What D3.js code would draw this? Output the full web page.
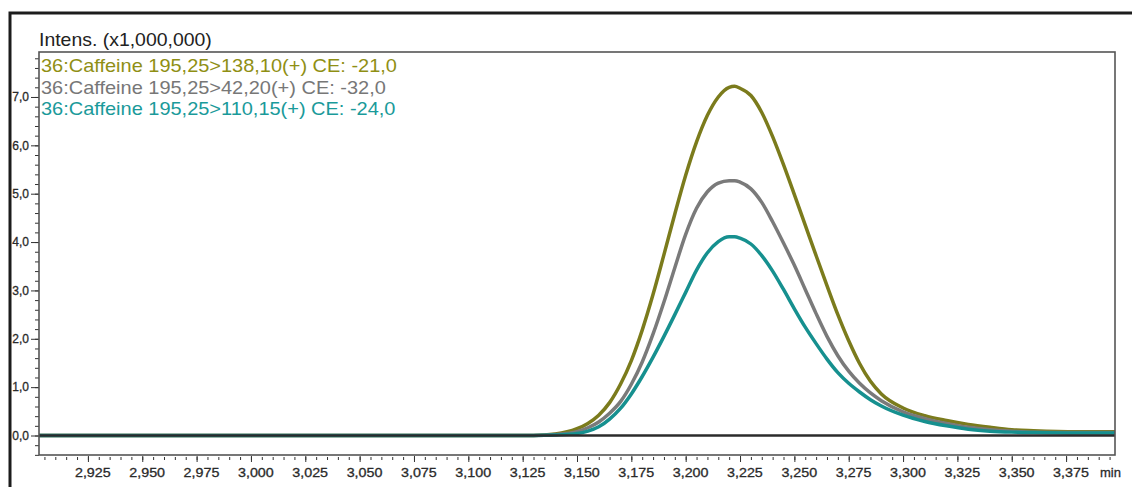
<!DOCTYPE html>
<html>
<head>
<meta charset="utf-8">
<script src="https://d3js.org/d3.v7.min.js"></script>
<style>
  body { margin: 0; background: #fff; }
  text { font-family: "Liberation Sans", Arial, sans-serif; }
</style>
</head>
<body>
<svg id="drawing_region"></svg>
<script>
// retention time (min)
const times = [2.9025, 3.100, 3.130, 3.140, 3.150, 3.155, 3.160, 3.165, 3.170, 3.175,
               3.180, 3.185, 3.190, 3.195, 3.200, 3.205, 3.210, 3.215, 3.220, 3.2225,
               3.225, 3.230, 3.235, 3.240, 3.245, 3.250, 3.255, 3.260, 3.265, 3.270,
               3.275, 3.280, 3.285, 3.290, 3.300, 3.310, 3.320, 3.330, 3.340, 3.350,
               3.360, 3.380, 3.3975];

// intensity (x1,000,000)
const intens138 = [0, 0, 0, 0.03, 0.14, 0.25, 0.42, 0.68, 1.06, 1.55,
                   2.18, 2.92, 3.74, 4.58, 5.38, 6.07, 6.62, 7.00, 7.20, 7.22,
                   7.18, 7.03, 6.68, 6.18, 5.60, 4.98, 4.35, 3.72, 3.10, 2.50,
                   1.96, 1.49, 1.12, 0.86, 0.57, 0.41, 0.31, 0.23, 0.17, 0.12,
                   0.10, 0.08, 0.08];
const intens42 = [0, 0, 0, 0.02, 0.08, 0.16, 0.28, 0.46, 0.70, 1.06,
                  1.52, 2.10, 2.76, 3.47, 4.16, 4.70, 5.04, 5.22, 5.27, 5.27,
                  5.24, 5.10, 4.82, 4.42, 3.98, 3.52, 3.02, 2.52, 2.05, 1.65,
                  1.33, 1.08, 0.88, 0.72, 0.49, 0.35, 0.25, 0.17, 0.12, 0.09,
                  0.07, 0.06, 0.06];
const intens110 = [0, 0, 0, 0.01, 0.04, 0.09, 0.18, 0.34, 0.56, 0.86,
                   1.22, 1.62, 2.05, 2.50, 2.96, 3.42, 3.78, 4.01, 4.11, 4.11,
                   4.08, 3.96, 3.72, 3.40, 3.02, 2.62, 2.24, 1.90, 1.58, 1.30,
                   1.08, 0.90, 0.74, 0.61, 0.42, 0.29, 0.20, 0.13, 0.09, 0.07,
                   0.06, 0.05, 0.05];

const seriesNames = ['36:Caffeine 195,25>138,10(+) CE: -21,0',
                     '36:Caffeine 195,25>42,20(+) CE: -32,0',
                     '36:Caffeine 195,25>110,15(+) CE: -24,0'];

const xTickValues = [2.925, 2.950, 2.975, 3.000, 3.025, 3.050, 3.075, 3.100, 3.125, 3.150,
                     3.175, 3.200, 3.225, 3.250, 3.275, 3.300, 3.325, 3.350, 3.375];
const xTickLabels = ['2,925', '2,950', '2,975', '3,000', '3,025', '3,050', '3,075', '3,100', '3,125', '3,150',
                     '3,175', '3,200', '3,225', '3,250', '3,275', '3,300', '3,325', '3,350', '3,375'];
const yTickValues = [0, 1, 2, 3, 4, 5, 6, 7];
const yTickLabels = ['0,0', '1,0', '2,0', '3,0', '4,0', '5,0', '6,0', '7,0'];

const yTitle = 'Intens. (x1,000,000)';
const xUnit = 'min';


class Chromatogram {

  constructor( config, series ) {
    this.config = {
      parent: config.parent,
      width: config.width || 1132,
      height: config.height || 487,
      margin: config.margin || {top:52, right:17, bottom:32, left:39}
    }
    this.series = series;
    this.init();
  }

  init(){
    let self = this;

    self.svg = d3.select( self.config.parent )
        .attr('width', self.config.width)
        .attr('height', self.config.height);

    self.inner_width = self.config.width - self.config.margin.left - self.config.margin.right;
    self.inner_height = self.config.height - self.config.margin.top - self.config.margin.bottom;

    // outer frame (top + left only)
    self.svg.append('path')
        .attr('d', `M10,${self.config.height} V13 H${self.config.width}`)
        .attr('fill', 'none')
        .attr('stroke', '#1c1c1c')
        .attr('stroke-width', 3);

    self.chart = self.svg.append('g')
        .attr('transform', `translate(${self.config.margin.left}, ${self.config.margin.top})`);

    self.xscale = d3.scaleLinear()
        .domain([times[0], times[times.length - 1]])
        .range([0, self.inner_width]);

    self.yscale = d3.scaleLinear()
        .domain([-0.403, 7.93])
        .range([self.inner_height, 0]);

    self.chart.append('clipPath')
        .attr('id', 'plot_clip')
      .append('rect')
        .attr('width', self.inner_width)
        .attr('height', self.inner_height);

    // minor ticks
    const xminor = d3.range(2.905, 3.3976, 0.005);
    const yminor = d3.range(-0.4, 7.81, 0.2);

    self.chart.append('g')
        .attr('class', 'xminor')
        .attr('transform', `translate(0, ${self.inner_height + 2})`)
        .call(d3.axisBottom(self.xscale).tickValues(xminor).tickSize(3).tickFormat(''));

    self.chart.append('g')
        .attr('class', 'yminor')
        .call(d3.axisLeft(self.yscale).tickValues(yminor).tickSize(4).tickFormat(''));

    self.xaxis = d3.axisBottom( self.xscale )
        .tickValues(xTickValues)
        .tickFormat((d, i) => xTickLabels[i])
        .tickSize(6)
        .tickPadding(6);
    self.yaxis = d3.axisLeft( self.yscale )
        .tickValues(yTickValues)
        .tickFormat((d, i) => yTickLabels[i])
        .tickSize(8)
        .tickPadding(2);

    self.xaxis_group = self.chart.append('g')
        .attr('class', 'xaxis')
        .attr('transform', `translate(0, ${self.inner_height + 1})`);

    self.yaxis_group = self.chart.append('g')
        .attr('class', 'yaxis');

    self.line = d3.line()
        .x((d, i) => self.xscale(times[i]))
        .y(d => self.yscale(d))
        .curve(d3.curveMonotoneX);
  }

  update(){
    let self = this;
    self.render();
  }

  render(){
    let self = this;

    self.chart.append('g')
        .attr('clip-path', 'url(#plot_clip)')
      .selectAll('path')
        .data(self.series)
        .join('path')
        .attr('d', d => self.line(d.values))
        .attr('fill', 'none')
        .attr('stroke', d => d.color)
        .attr('stroke-width', 3.5)
        .attr('stroke-linejoin', 'round');

    // zero baseline
    self.chart.append('line')
        .attr('x1', 0)
        .attr('x2', self.inner_width)
        .attr('y1', self.yscale(0))
        .attr('y2', self.yscale(0))
        .attr('stroke', '#2b2b2b')
        .attr('stroke-width', 2.5);

    // plot box
    self.chart.append('rect')
        .attr('width', self.inner_width)
        .attr('height', self.inner_height)
        .attr('fill', 'none')
        .attr('stroke', '#555')
        .attr('stroke-width', 1.6);

    self.xaxis_group.call( self.xaxis );
    self.yaxis_group.call( self.yaxis );

    self.chart.selectAll('.domain').remove();
    self.chart.selectAll('.tick line').attr('stroke', '#333');

    self.xaxis_group.selectAll('text')
        .attr('font-size', 13)
        .attr('fill', '#2a2a2a')
        .attr('stroke', '#2a2a2a')
        .attr('stroke-width', 0.3)
        .attr('dx', 4)
        .attr('transform', 'scale(1.1,1)');

    self.yaxis_group.selectAll('text')
        .attr('font-size', 12)
        .attr('fill', '#2a2a2a')
        .attr('stroke', '#2a2a2a')
        .attr('stroke-width', 0.3);

    self.chart.append('text')
        .attr('x', self.inner_width - 15)
        .attr('y', self.inner_height + 22)
        .attr('font-size', 13)
        .attr('fill', '#2a2a2a')
        .attr('stroke', '#2a2a2a')
        .attr('stroke-width', 0.3)
        .text(xUnit);

    self.chart.append('text')
        .attr('transform', 'translate(0, -6) scale(1.08,1)')
        .attr('font-size', 18)
        .attr('fill', '#222')
        .text(yTitle);

    self.chart.selectAll('.legend')
        .data(self.series)
        .join('text')
        .attr('class', 'legend')
        .attr('transform', (d, i) => `translate(2, ${20 + i * 21.5}) scale(1.11,1)`)
        .attr('font-size', 18)
        .attr('fill', d => d.textColor)
        .text(d => d.name);
  }
}

const series = [
  {name: seriesNames[0], values: intens138, color: '#7b7b1c', textColor: '#8f8f14'},
  {name: seriesNames[1], values: intens42,  color: '#7a7a7a', textColor: '#777'},
  {name: seriesNames[2], values: intens110, color: '#16908f', textColor: '#1a9a9a'}
];

const chart = new Chromatogram({
  parent: '#drawing_region',
  width: 1132,
  height: 487,
  margin: {top:52, right:17, bottom:32, left:39}
}, series);
chart.update();
</script>
</body>
</html>
